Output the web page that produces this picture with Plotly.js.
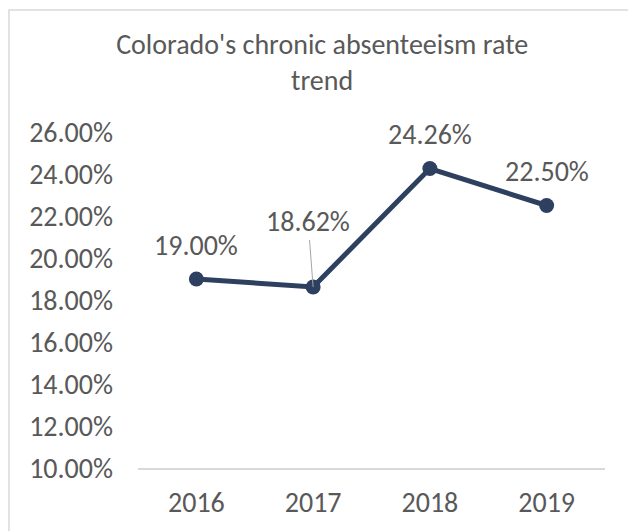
<!DOCTYPE html>
<html>
<head>
<meta charset="utf-8">
<script src="https://cdn.plot.ly/plotly-3.0.1.min.js"></script>
<style>html,body{margin:0;padding:0;background:#fff;} #chart{width:628px;height:531px;}</style>
</head>
<body>
<div id="chart"></div>
<script>
const years = ['2016', '2017', '2018', '2019'];
const rates = [19.00, 18.62, 24.26, 22.50];
const rateLabels = ['19.00%', '18.62%', '24.26%', '22.50%'];
const yTicks = [10, 12, 14, 16, 18, 20, 22, 24, 26];
const yTickLabels = ['10.00%', '12.00%', '14.00%', '16.00%', '18.00%', '20.00%', '22.00%', '24.00%', '26.00%'];

const FONT = 'Carlito, Lato, "Open Sans", sans-serif';
const FS = 28;
const TXT = '#595959';
const NAVY = '#2E405F';

const annotations = years.map((yr, i) => {
  if (i === 1) {
    return {x: i, y: rates[i], xref: 'x', yref: 'y', text: rateLabels[i],
      showarrow: true, arrowhead: 0, arrowwidth: 1, arrowcolor: '#a6a6a6',
      ax: -5, ay: -65, standoff: 0, borderpad: 0,
      font: {family: FONT, size: FS, color: TXT}};
  }
  return {x: i, y: rates[i], xref: 'x', yref: 'y', text: rateLabels[i],
    showarrow: false, yshift: 34, font: {family: FONT, size: FS, color: TXT}};
});

const data = [{
  type: 'scatter', mode: 'lines+markers', x: years, y: rates,
  line: {color: NAVY, width: 5},
  marker: {color: NAVY, size: 15},
  hoverinfo: 'skip'
}];

const layout = {
  width: 628, height: 531,
  margin: {l: 138, r: 23, t: 132, b: 63},
  paper_bgcolor: '#fff', plot_bgcolor: '#fff',
  showlegend: false,
  font: {family: FONT, color: TXT},
  title: {
    text: "Colorado's chronic absenteeism rate<br>trend",
    font: {family: FONT, size: FS, color: TXT},
    xref: 'container', x: 0.513, xanchor: 'center',
    yref: 'container', y: 1 - 54/531, yanchor: 'top'
  },
  xaxis: {
    type: 'category', showgrid: false, zeroline: false,
    showline: true, linecolor: '#d9d9d9', linewidth: 1.5,
    ticks: '', ticklabelstandoff: 9,
    tickfont: {family: FONT, size: FS, color: TXT},
    range: [-0.5, 3.5]
  },
  yaxis: {
    range: [10, 26], showgrid: false, zeroline: false, showline: false,
    tickvals: yTicks, ticktext: yTickLabels, ticks: '', ticklabelstandoff: 24,
    tickfont: {family: FONT, size: FS, color: TXT}
  },
  annotations: annotations,
  shapes: [{
    type: 'rect', xref: 'paper', yref: 'paper',
    x0: (9 - 138) / 467, x1: 2, y0: -1, y1: (468 - 10) / 336,
    line: {color: '#d9d9d9', width: 1.5}, fillcolor: 'rgba(0,0,0,0)', layer: 'below'
  }]
};

Plotly.newPlot('chart', data, layout, {staticPlot: true, displayModeBar: false});
</script>
</body>
</html>
